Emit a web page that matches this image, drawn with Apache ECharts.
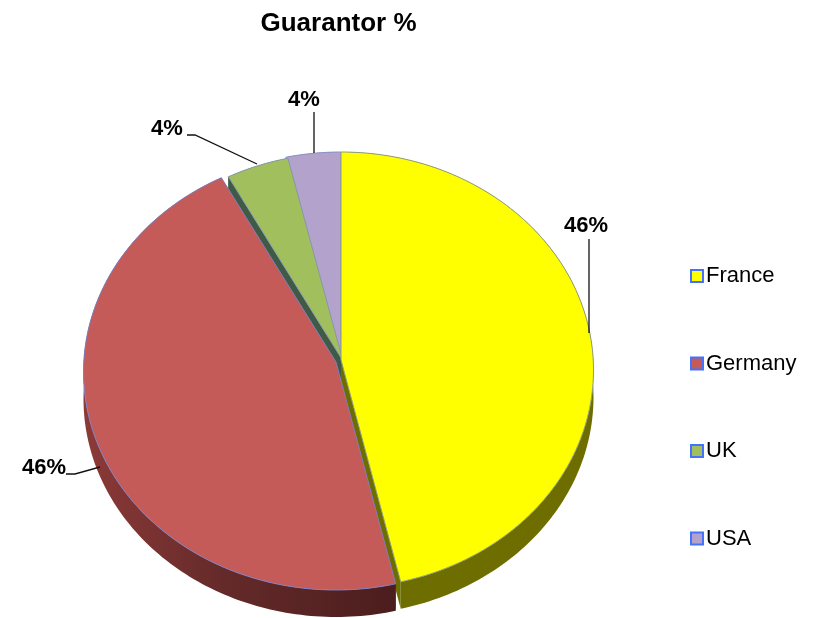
<!DOCTYPE html>
<html><head><meta charset="utf-8">
<style>html,body{margin:0;padding:0;background:#fff}#c{width:814px;height:618px}</style>
<script src="https://cdn.jsdelivr.net/npm/echarts@6/dist/echarts.min.js"></script>
</head><body><div id="c"></div>
<script>
const titleText = 'Guarantor %';
const categories = ['France', 'Germany', 'UK', 'USA'];
const values = [46.2, 46.3, 4.0, 3.5];

// Styling and layout, kept apart from the data
const faceColors = ['#FFFF00', '#C55B59', '#A1BF5C', '#B3A3CC'];
const wallColors = ['#6E6E00', '#642827', '#3F5A45', '#5F5578'];
const edgeColors = ['#8E9C80', '#7F7FC0', '#8A9AB0', '#8A94C4'];
const shifts = [[1, 0], [-4, 2], [3, 1], [1, 0]];
const drawOrder = [3, 2, 0, 1];
const labelSpots = [[586, 226], [44, 468], [167, 129], [304, 100]];
const leaders = [
  [[589, 239], [589, 333]],
  [[66, 474], [75, 474], [100, 467]],
  [[187, 135], [195, 135], [257, 164]],
  [[314, 112], [314, 153]]
];
const rimCx = 340, rimCy = 370, rx = 252.5, ry = 218, apexX = 340, apexY = 360, depth = 27;

const total = values.reduce((a, b) => a + b, 0);
const FONT = '"Liberation Sans", Arial, sans-serif';

function rim(t) {
  return [rimCx + rx * Math.sin(t), rimCy - ry * Math.cos(t)];
}
function arc(a, b) {
  const n = Math.max(2, Math.ceil((b - a) / 0.02));
  const pts = [];
  for (let i = 0; i <= n; i++) pts.push(rim(a + (b - a) * i / n));
  return pts;
}
function renderSlice(idx, api) {
  const value = api.value(0);
  let before = 0;
  for (let i = 0; i < idx; i++) before += values[i];
  const a = before / total * Math.PI * 2;
  const b = (before + value) / total * Math.PI * 2;
  const [sx, sy] = shifts[idx];
  const off = (p, dy) => [p[0] + sx, p[1] + sy + (dy || 0)];
  const apex = [apexX, apexY];
  const children = [];
  const wall = (pts, fill) => children.push({
    type: 'polygon', silent: true, shape: { points: pts }, style: { fill: fill, stroke: null }
  });
  const rimPts = arc(a, b);
  const first = rimPts[0], last = rimPts[rimPts.length - 1];
  // radial inner walls
  wall([off(apex), off(first), off(first, depth), off(apex, depth)], wallColors[idx]);
  wall([off(apex), off(last), off(last, depth), off(apex, depth)], wallColors[idx]);
  // outer wall
  const top = rimPts.map(p => off(p));
  const bottom = rimPts.map(p => off(p, depth)).reverse();
  const outerFill = idx === 1
    ? { type: 'linear', x: 0, y: 0, x2: 1, y2: 0, colorStops: [
        { offset: 0, color: '#8C3A38' }, { offset: 0.45, color: '#642A29' }, { offset: 1, color: '#4C1D1E' }] }
    : wallColors[idx];
  wall(top.concat(bottom), outerFill);
  // top face
  children.push({
    type: 'polygon', silent: true,
    shape: { points: [off(apex)].concat(top) },
    style: { fill: faceColors[idx], stroke: edgeColors[idx], lineWidth: 1 }
  });
  // leader line and label
  children.push({
    type: 'polyline', silent: true, z2: 20,
    shape: { points: leaders[idx] },
    style: { fill: null, stroke: '#111', lineWidth: 1.3 }
  });
  children.push({
    type: 'text', silent: true, z2: 20,
    x: labelSpots[idx][0], y: labelSpots[idx][1],
    style: {
      text: Math.round(value / total * 100) + '%',
      fill: '#000', font: 'bold 22px ' + FONT, align: 'center', verticalAlign: 'middle'
    }
  });
  return { type: 'group', children };
}

const series = categories.map((name, idx) => ({
  type: 'custom',
  name: name,
  coordinateSystem: 'none',
  z: 2 + drawOrder.indexOf(idx),
  itemStyle: { color: faceColors[idx] },
  animation: false,
  data: [[values[idx]]],
  renderItem: (params, api) => renderSlice(idx, api)
}));

const chart = echarts.init(document.getElementById('c'), null, { renderer: 'canvas' });
chart.setOption({
  backgroundColor: '#fff',
  animation: false,
  title: {
    text: titleText, left: 333.5, top: 6, textAlign: 'center',
    textStyle: { fontFamily: FONT, fontWeight: 'bold', fontSize: 26, color: '#000' }
  },
  legend: {
    data: categories,
    orient: 'vertical',
    left: 690, top: 265,
    padding: 0,
    itemWidth: 12, itemHeight: 12,
    itemGap: 65.5,
    icon: 'rect',
    selectedMode: false,
    itemStyle: { borderColor: '#4472FF', borderWidth: 2 },
    textStyle: { fontFamily: FONT, fontSize: 22, color: '#000', padding: [0, 0, 0, -2] }
  },
  series: series
});
</script></body></html>
